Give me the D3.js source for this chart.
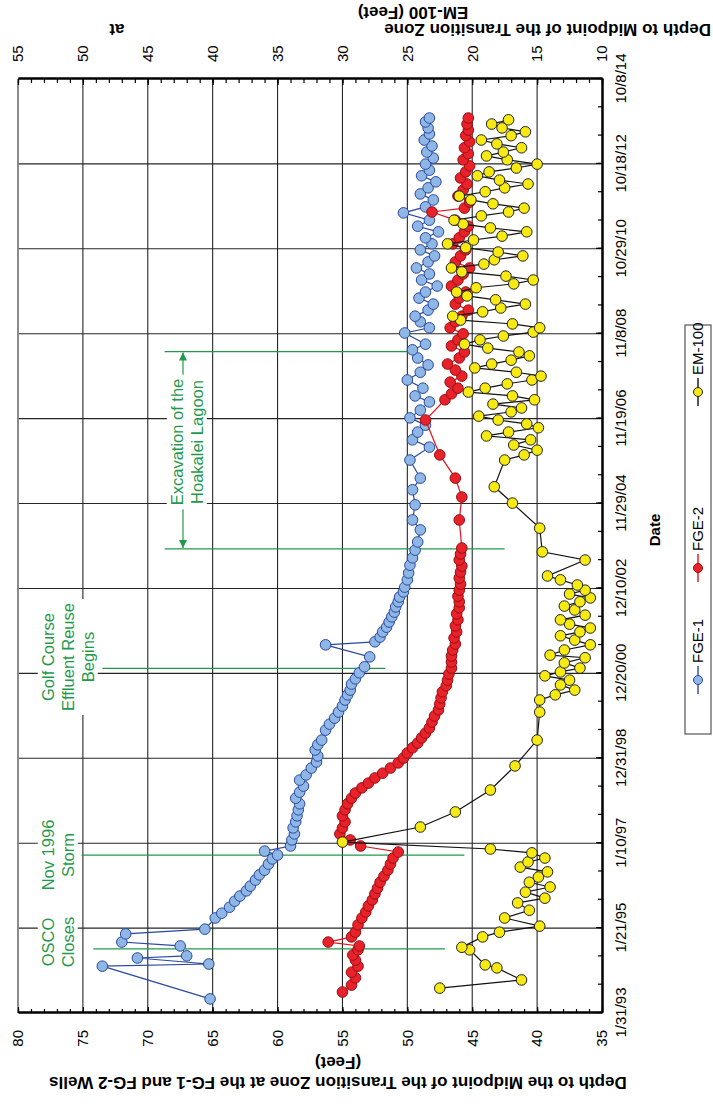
<!DOCTYPE html>
<html>
<head>
<meta charset="utf-8">
<script src="https://cdn.jsdelivr.net/npm/d3@7"></script>
<style>
  body { margin: 0; background: #fff; }
  svg { display: block; }
  text { font-family: Arial, "Liberation Sans", Helvetica, sans-serif; }
</style>
</head>
<body>
<svg id="chart" width="713" height="1105"></svg>
<script>
// ---- data (sample times as decimal years, depths in feet) -------------
const fge1Year = [1993.41,1994.17,1994.22,1994.36,1994.41,1994.64,1994.73,1994.92,1995.03,1995.29,1995.40,1995.54,1995.68,1995.80,1995.92,1996.03,1996.17,1996.29,1996.40,1996.54,1996.66,1996.75,1996.84,1996.96,1997.10,1997.24,1997.38,1997.52,1997.66,1997.80,1997.94,1998.07,1998.21,1998.35,1998.49,1998.61,1998.77,1998.91,1999.05,1999.19,1999.31,1999.42,1999.65,1999.79,1999.93,2000.07,2000.21,2000.35,2000.47,2000.58,2000.72,2000.84,2000.98,2001.12,2001.35,2001.63,2001.70,2001.81,2001.93,2002.04,2002.16,2002.28,2002.39,2002.51,2002.63,2002.74,2002.86,2002.97,2003.14,2003.30,2003.48,2003.65,2003.83,2004.02,2004.30,2004.53,2004.88,2005.23,2005.50,2005.92,2006.22,2006.39,2006.57,2006.73,2006.90,2007.08,2007.27,2007.41,2007.59,2007.78,2007.96,2008.13,2008.29,2008.48,2008.61,2008.87,2008.99,2009.13,2009.26,2009.40,2009.54,2009.68,2009.82,2009.96,2010.10,2010.24,2010.38,2010.52,2010.66,2010.80,2010.94,2011.08,2011.22,2011.35,2011.49,2011.66,2011.80,2011.96,2012.10,2012.24,2012.38,2012.52,2012.65,2012.79,2012.93,2013.07,2013.21,2013.35,2013.49,2013.63,2013.77,2013.86];
const fge1Depth = [65.2,73.5,65.3,70.8,67.0,67.5,72.0,71.7,65.6,64.8,64.3,63.7,63.3,62.9,62.4,62.1,61.7,61.4,61.0,60.7,60.4,60.0,61.0,59.0,58.9,58.7,58.8,58.6,58.5,58.4,58.3,58.6,58.3,58.0,58.3,57.8,57.4,57.0,56.9,57.1,56.9,56.6,56.3,56.0,55.6,55.3,55.0,54.8,54.6,54.4,54.3,54.0,53.7,53.3,52.9,56.3,52.5,52.1,51.9,51.6,51.4,51.2,51.0,50.9,50.7,50.6,50.3,50.2,50.0,49.9,49.8,49.6,49.4,49.2,49.0,49.6,49.4,49.6,49.0,49.8,48.3,49.6,49.2,48.6,49.8,49.0,48.3,49.4,48.8,50.0,49.0,48.4,49.2,49.6,48.6,50.2,48.3,49.0,49.4,48.4,48.0,49.1,48.6,47.7,48.9,48.3,49.3,48.4,47.9,49.0,48.1,48.6,47.6,49.2,48.3,50.3,48.6,48.0,49.0,48.4,47.8,48.9,48.3,48.6,48.0,48.5,48.1,48.7,48.3,48.4,48.6,48.3];

const fge2Year = [1993.57,1993.73,1993.90,1994.03,1994.17,1994.31,1994.43,1994.55,1994.64,1994.73,1994.85,1994.96,1995.13,1995.29,1995.43,1995.57,1995.71,1995.85,1995.98,1996.12,1996.26,1996.40,1996.54,1996.68,1996.82,1996.96,1997.10,1997.24,1997.38,1997.52,1997.66,1997.80,1997.94,1998.07,1998.19,1998.31,1998.42,1998.54,1998.65,1998.77,1998.89,1999.00,1999.12,1999.24,1999.35,1999.47,1999.58,1999.70,1999.84,1999.98,2000.12,2000.26,2000.40,2000.54,2000.68,2000.81,2000.95,2001.09,2001.23,2001.37,2001.51,2001.65,2001.79,2001.93,2002.07,2002.21,2002.35,2002.49,2002.63,2002.76,2002.90,2003.04,2003.18,2003.32,2003.46,2003.60,2003.74,2003.88,2004.53,2005.06,2005.50,2006.04,2006.85,2007.32,2007.46,2007.59,2007.73,2007.87,2008.01,2008.15,2008.29,2008.43,2008.57,2008.71,2008.85,2008.99,2009.13,2009.26,2009.40,2009.54,2009.68,2009.82,2009.96,2010.10,2010.24,2010.38,2010.52,2010.66,2010.80,2010.94,2011.08,2011.22,2011.35,2011.49,2011.68,2011.77,2011.91,2012.05,2012.19,2012.33,2012.47,2012.61,2012.75,2012.89,2013.03,2013.17,2013.31,2013.45,2013.58,2013.72,2013.86];
const fge2Depth = [55.0,54.3,54.0,54.3,53.8,54.0,54.2,53.8,53.7,56.1,54.3,54.0,53.8,53.5,53.2,53.0,52.7,52.5,52.3,52.1,51.8,51.5,51.3,51.1,50.7,53.6,54.4,55.2,55.0,54.8,55.0,54.8,54.6,54.3,54.0,53.5,53.0,52.5,51.9,51.3,50.7,50.3,50.0,49.6,49.2,48.9,48.6,48.3,48.1,47.9,47.6,47.5,47.4,47.3,47.0,46.9,46.8,46.6,46.6,46.6,46.5,46.3,46.4,46.2,46.3,46.1,46.2,46.0,46.0,46.1,46.0,45.9,46.0,45.9,45.8,46.0,45.9,45.8,46.0,45.8,46.3,47.5,48.6,47.1,46.6,46.1,46.7,45.8,46.3,46.9,46.0,45.6,46.6,46.1,45.7,46.7,46.3,45.8,45.3,46.3,46.0,45.5,46.6,46.1,45.7,45.2,46.3,45.9,45.5,46.5,46.0,45.6,45.3,46.3,48.1,45.6,45.2,46.1,45.7,45.4,45.9,45.5,45.2,45.7,45.3,45.6,45.2,45.5,45.3,45.4,45.3];

const em100Year = [1993.66,1993.85,1994.13,1994.20,1994.55,1994.61,1994.85,1994.96,1995.10,1995.29,1995.47,1995.64,1995.75,1995.89,1996.01,1996.12,1996.24,1996.36,1996.47,1996.59,1996.68,1996.80,1996.89,1997.05,1997.40,1997.75,1998.26,1998.82,1999.42,2000.07,2000.35,2000.47,2000.58,2000.70,2000.81,2000.91,2001.00,2001.09,2001.21,2001.33,2001.39,2001.51,2001.63,2001.74,2001.84,2001.93,2002.02,2002.11,2002.21,2002.32,2002.44,2002.53,2002.63,2002.72,2002.81,2002.90,2003.02,2003.14,2003.23,2003.60,2003.79,2004.34,2004.92,2005.30,2005.92,2006.04,2006.15,2006.27,2006.39,2006.48,2006.57,2006.67,2006.76,2006.85,2006.94,2007.04,2007.13,2007.22,2007.32,2007.41,2007.50,2007.59,2007.69,2007.78,2007.87,2007.96,2008.06,2008.15,2008.24,2008.34,2008.43,2008.52,2008.61,2008.71,2008.80,2008.89,2008.99,2009.08,2009.17,2009.26,2009.36,2009.45,2009.54,2009.64,2009.73,2009.82,2009.92,2010.01,2010.10,2010.19,2010.29,2010.38,2010.47,2010.57,2010.66,2010.75,2010.85,2010.94,2011.03,2011.12,2011.22,2011.31,2011.40,2011.49,2011.59,2011.68,2011.77,2011.87,2011.96,2012.05,2012.15,2012.24,2012.33,2012.42,2012.52,2012.61,2012.70,2012.79,2012.89,2012.98,2013.07,2013.17,2013.26,2013.35,2013.45,2013.54,2013.63,2013.72,2013.82];
const em100Depth = [22.5,16.2,18.1,19.0,20.2,20.8,19.2,17.9,14.8,17.5,15.6,16.5,14.4,15.9,14.0,15.6,14.9,14.2,16.3,15.7,14.4,15.4,18.6,30.0,24.0,21.3,18.6,16.7,15.0,14.8,14.8,13.6,12.1,13.2,12.5,14.4,13.2,11.7,12.9,11.3,14.0,12.9,10.9,12.1,13.2,11.7,10.9,12.5,13.2,11.3,12.1,12.9,11.7,10.9,12.5,11.3,11.9,13.2,14.2,11.3,14.6,14.8,16.9,18.3,17.5,16.0,15.0,16.8,15.5,18.9,17.2,14.9,15.8,18.0,19.5,17.0,16.2,18.4,15.2,16.9,20.3,19.0,17.3,15.4,14.7,16.6,19.8,18.5,17.0,15.6,16.4,18.8,20.6,19.4,17.6,15.3,14.8,16.9,20.9,21.5,19.2,17.8,15.9,18.2,20.4,21.2,19.7,16.8,15.3,17.4,20.8,21.6,19.1,18.3,16.1,18.0,20.5,21.9,19.9,17.7,15.8,18.6,20.7,21.4,19.3,17.2,16.0,18.4,20.1,21.0,19.0,17.5,15.7,17.9,19.6,18.7,16.6,15.0,17.3,18.9,17.6,16.2,18.1,19.3,17.0,15.9,17.7,18.5,17.2];

// axes
const dateTicks = ["1993-01-31","1995-01-21","1997-01-10","1998-12-31","2000-12-20","2002-12-10","2004-11-29","2006-11-19","2008-11-08","2010-10-29","2012-10-18","2014-10-08"];
const wellDepthTicks = [35, 40, 45, 50, 55, 60, 65, 70, 75, 80];
const em100DepthTicks = [10, 15, 20, 25, 30, 35, 40, 45, 50, 55];

// event markers
const eventDates = ["1994-07-28", "1996-10-01", "2001-02-01"];
const eventLabels = [["OSCO", "Closes"], ["Nov 1996", "Storm"], ["Golf Course", "Effluent Reuse", "Begins"]];
const excavationDates = ["2003-11-10", "2008-06-10"];
const excavationLabel = ["Excavation of the", "Hoakalei Lagoon"];

const seriesNames = ["FGE-1", "FGE-2", "EM-100"];

// ---- layout (drawn landscape, then turned a quarter turn) -------------
const LW = 1105, LH = 713;
const plot = { left: 92, right: 1026, top: 18, bottom: 602 };
const parse = d3.utcParse("%Y-%m-%d");
const fmt = d3.utcFormat("%-m/%-d/%y");
function yearToDate(t) {
  const yr = Math.floor(t);
  const a = Date.UTC(yr, 0, 1), b = Date.UTC(yr + 1, 0, 1);
  return new Date(a + (t - yr) * (b - a));
}

const svg = d3.select("#chart");
const g = svg.append("g").attr("transform", `translate(0,${LW}) rotate(-90)`);

const x = d3.scaleUtc().domain([parse(dateTicks[0]), parse(dateTicks[dateTicks.length - 1])]).range([plot.left, plot.right]);
const yWell = d3.scaleLinear().domain([35, 80]).range([plot.bottom, plot.top]);
const yEm = d3.scaleLinear().domain([10, 55]).range([plot.bottom, plot.top]);

// grid
const grid = g.append("g");
grid.selectAll(".hg").data(wellDepthTicks.slice(1, -1)).join("line")
  .attr("x1", plot.left).attr("x2", plot.right)
  .attr("y1", d => yWell(d)).attr("y2", d => yWell(d))
  .attr("stroke", "#262626").attr("stroke-width", 1.1);
grid.selectAll(".vg").data(dateTicks.slice(1, -1)).join("line")
  .attr("y1", plot.top).attr("y2", plot.bottom)
  .attr("x1", d => x(parse(d))).attr("x2", d => x(parse(d)))
  .attr("stroke", "#262626").attr("stroke-width", 1.1);
// top frame
g.append("line").attr("x1", plot.left).attr("x2", plot.right).attr("y1", plot.top).attr("y2", plot.top)
  .attr("stroke", "#808080").attr("stroke-width", 1.8);

// event lines
const green = "#1f9a4c";
const ev = g.append("g");
const eventSpans = [[74.2, 47.1], [75.1, 45.6], [73.5, 51.7]];
eventDates.forEach((d, i) => {
  ev.append("line")
    .attr("x1", x(parse(d))).attr("x2", x(parse(d)))
    .attr("y1", yWell(eventSpans[i][0])).attr("y2", yWell(eventSpans[i][1]))
    .attr("stroke", green).attr("stroke-width", 1.2);
});
const excavationSpans = [[68.7, 42.5], [68.7, 49.4]];
excavationDates.forEach((d, i) => {
  ev.append("line")
    .attr("x1", x(parse(d))).attr("x2", x(parse(d)))
    .attr("y1", yWell(excavationSpans[i][0])).attr("y2", yWell(excavationSpans[i][1]))
    .attr("stroke", green).attr("stroke-width", 1.2);
});
// double arrow
const defs = svg.append("defs");
["s", "e"].forEach(k => {
  defs.append("marker").attr("id", "arr" + k)
    .attr("viewBox", "0 0 10 10").attr("refX", 10).attr("refY", 5)
    .attr("markerWidth", 10).attr("markerHeight", 8).attr("markerUnits", "userSpaceOnUse")
    .attr("orient", k === "s" ? "auto-start-reverse" : "auto")
    .append("path").attr("d", "M0,0L10,5L0,10Z").attr("fill", green);
});
const arrowY = 183;
ev.append("line")
  .attr("x1", x(parse(excavationDates[0])) + 1).attr("x2", x(parse(excavationDates[1])) - 1)
  .attr("y1", arrowY).attr("y2", arrowY)
  .attr("stroke", green).attr("stroke-width", 1.2)
  .attr("marker-start", "url(#arrs)").attr("marker-end", "url(#arre)");

// series
function drawSeries(years, values, yScale, st) {
  const pts = years.map((t, i) => [x(yearToDate(t)), yScale(values[i])]);
  const s = g.append("g");
  s.append("path").attr("d", d3.line()(pts)).attr("fill", "none")
    .attr("stroke", st.line).attr("stroke-width", 1.2);
  s.selectAll("circle").data(pts).join("circle")
    .attr("cx", p => p[0]).attr("cy", p => p[1]).attr("r", 5.3)
    .attr("fill", st.fill).attr("stroke", st.stroke).attr("stroke-width", 1);
}
const styles = [
  { line: "#2a48a0", fill: "#8fb7e6", stroke: "#2a48a0" },
  { line: "#e0141c", fill: "#e8222a", stroke: "#9a0d10" },
  { line: "#111111", fill: "#f7ea12", stroke: "#222222" }
];
drawSeries(fge1Year, fge1Depth, yWell, styles[0]);
drawSeries(fge2Year, fge2Depth, yWell, styles[1]);
drawSeries(em100Year, em100Depth, yEm, styles[2]);

// event labels with white backing
function label(lines, cx, firstY, step, size) {
  const t = g.append("g");
  const txt = t.append("text").attr("fill", green).attr("font-size", size).attr("text-anchor", "middle");
  lines.forEach((l, i) => txt.append("tspan").attr("x", cx).attr("y", firstY + i * step).attr("dy", "0.35em").text(l));
  const b = txt.node().getBBox();
  t.insert("rect", "text").attr("x", b.x - 4).attr("y", b.y - 1).attr("width", b.width + 8).attr("height", b.height + 2).attr("fill", "#fff");
}
label(eventLabels[0], LW - 942, 48, 20, 16.5);
label(eventLabels[1], LW - 855, 48, 20, 16.5);
label(eventLabels[2], LW - 657, 48, 20, 16.5);
label(excavationLabel, LW - 442, 177, 20, 16.5);

// axes
const axisFont = 15;
function styleAxis(sel) {
  sel.selectAll("text").attr("font-size", axisFont).attr("fill", "#000").attr("font-family", "Arial, 'Liberation Sans', sans-serif");
  sel.selectAll("line").attr("stroke", "#000").attr("stroke-width", 1.2);
  sel.select(".domain").attr("stroke", "#000").attr("stroke-width", 2);
}
const minorDates = d3.range(0, 7921, 240).map(n => d3.utcDay.offset(parse(dateTicks[0]), n));
g.append("g").attr("transform", `translate(0,${plot.bottom})`)
  .call(d3.axisBottom(x).tickValues(minorDates).tickFormat("").tickSize(-4).tickSizeOuter(0))
  .call(styleAxis);
g.append("g").attr("transform", `translate(0,${plot.bottom})`)
  .call(d3.axisBottom(x).tickValues(dateTicks.map(parse)).tickFormat(fmt).tickSize(-6).tickSizeOuter(0).tickPadding(13))
  .call(styleAxis);
g.append("g").attr("transform", `translate(${plot.left},0)`)
  .call(d3.axisLeft(yWell).tickValues(d3.range(35, 81, 1)).tickFormat("").tickSize(-4).tickSizeOuter(0))
  .call(styleAxis);
g.append("g").attr("transform", `translate(${plot.left},0)`)
  .call(d3.axisLeft(yWell).tickValues(wellDepthTicks).tickSize(-6).tickSizeOuter(0).tickPadding(17))
  .call(styleAxis);
g.append("g").attr("transform", `translate(${plot.right},0)`)
  .call(d3.axisRight(yEm).tickValues(d3.range(10, 56, 1)).tickFormat("").tickSize(-4).tickSizeOuter(0))
  .call(styleAxis);
g.append("g").attr("transform", `translate(${plot.right},0)`)
  .call(d3.axisRight(yEm).tickValues(em100DepthTicks).tickSize(-6).tickSizeOuter(0).tickPadding(17))
  .call(styleAxis);

// axis titles
const titleSize = 17;
g.append("text").attr("font-weight", "bold").attr("font-size", titleSize).attr("text-anchor", "middle")
  .attr("transform", "translate(22,338) rotate(-90)").attr("dy", "0.35em")
  .text("Depth to the Midpoint of the Transition Zone at the FG-1 and FG-2 Wells");
g.append("text").attr("font-weight", "bold").attr("font-size", titleSize).attr("text-anchor", "middle")
  .attr("transform", "translate(42,338) rotate(-90)").attr("dy", "0.35em").text("(Feet)");

g.append("text").attr("font-weight", "bold").attr("font-size", titleSize).attr("text-anchor", "start")
  .attr("transform", `translate(${LW - 30},711) rotate(-90)`).attr("dy", "0.35em").text("Depth to Midpoint of the Transition Zone");
g.append("text").attr("font-weight", "bold").attr("font-size", titleSize).attr("text-anchor", "middle")
  .attr("transform", `translate(${LW - 30},117) rotate(-90)`).attr("dy", "0.35em").text("at");
g.append("text").attr("font-weight", "bold").attr("font-size", titleSize).attr("text-anchor", "middle")
  .attr("transform", `translate(${LW - 13},413) rotate(-90)`).attr("dy", "0.35em").text("EM-100 (Feet)");

g.append("text").attr("font-weight", "bold").attr("font-size", 15).attr("text-anchor", "middle")
  .attr("x", LW - 530).attr("y", 655).attr("dy", "0.35em").text("Date");

// legend
const lg = g.append("g");
lg.append("rect").attr("x", LW - 734).attr("y", 685).attr("width", 734 - 325).attr("height", 26)
  .attr("fill", "#fff").attr("stroke", "#555").attr("stroke-width", 1.2);
const legendX = [LW - 680, LW - 568, LW - 392];
seriesNames.forEach((n, i) => {
  const cx = legendX[i];
  lg.append("line").attr("x1", cx - 14).attr("x2", cx + 14).attr("y1", 698).attr("y2", 698)
    .attr("stroke", styles[i].line).attr("stroke-width", 1.4);
  lg.append("circle").attr("cx", cx).attr("cy", 698).attr("r", 4.5)
    .attr("fill", styles[i].fill).attr("stroke", styles[i].stroke);
  lg.append("text").attr("x", cx + 17).attr("y", 698).attr("dy", "0.35em").attr("font-size", 15).text(n);
});
</script>
</body>
</html>
